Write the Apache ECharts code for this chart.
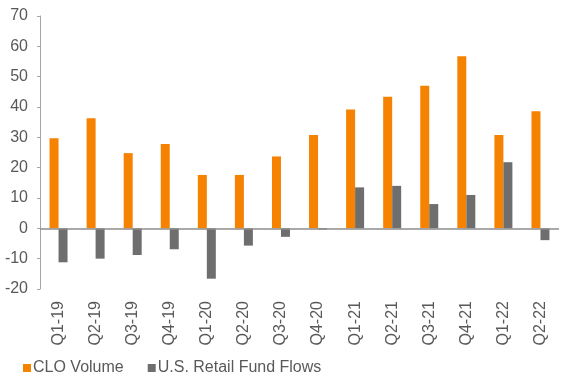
<!DOCTYPE html>
<html><head><meta charset="utf-8">
<script src="https://cdn.jsdelivr.net/npm/echarts@6/dist/echarts.min.js"></script>
<style>html,body{margin:0;padding:0;background:#fff}#c{width:564px;height:379px}</style>
</head><body><div id="c"></div>
<script>
const categories = ['Q1-19','Q2-19','Q3-19','Q4-19','Q1-20','Q2-20','Q3-20','Q4-20','Q1-21','Q2-21','Q3-21','Q4-21','Q1-22','Q2-22'];
const cloVolume = [29.7, 36.3, 24.8, 27.8, 17.6, 17.6, 23.7, 30.8, 39.2, 43.4, 47.0, 56.7, 30.8, 38.6];
const retailFlows = [-11.2, -10.0, -8.8, -6.9, -16.6, -5.7, -2.8, -0.4, 13.5, 14.0, 8.0, 11.0, 21.8, -3.9];
const yTicks = { min: -20, max: 70, interval: 10 };

const font = 'Liberation Sans, Arial, sans-serif';
const chart = echarts.init(document.getElementById('c'));
chart.setOption({
  animation: false,
  textStyle: { fontFamily: font },
  grid: { left: 40, right: 5, top: 16, bottom: 90, containLabel: false },
  legend: {
    left: 18, top: 355, itemWidth: 8, itemHeight: 8, itemGap: 24,
    icon: 'rect',
    textStyle: { fontSize: 16, color: '#595959', fontFamily: font, padding: [0,0,0,-3] },
    data: ['CLO Volume', 'U.S. Retail Fund Flows']
  },
  xAxis: {
    type: 'category', data: categories,
    axisLine: { show: false, onZero: false },
    axisTick: { show: false },
    axisLabel: { rotate: 90, fontSize: 16, color: '#595959', margin: 12, interval: 0 }
  },
  yAxis: {
    type: 'value', min: yTicks.min, max: yTicks.max, interval: yTicks.interval,
    axisLine: { show: true, lineStyle: { color: '#a6a6a6' } },
    axisTick: { show: true, length: 3, lineStyle: { color: '#a6a6a6' } },
    splitLine: { show: false },
    axisLabel: { fontSize: 16, color: '#595959', margin: 12 }
  },
  series: [
    { name: 'CLO Volume', type: 'bar', data: cloVolume, barWidth: 9, barGap: '0%',
      itemStyle: { color: '#F58200' },
      markLine: { silent: true, symbol: 'none', label: { show: false },
        lineStyle: { color: '#8c8c8c', type: 'solid', width: 1.5 }, data: [{ yAxis: 0 }] } },
    { name: 'U.S. Retail Fund Flows', type: 'bar', data: retailFlows, barWidth: 9,
      itemStyle: { color: '#6E6E6E' } }
  ]
});
</script></body></html>
